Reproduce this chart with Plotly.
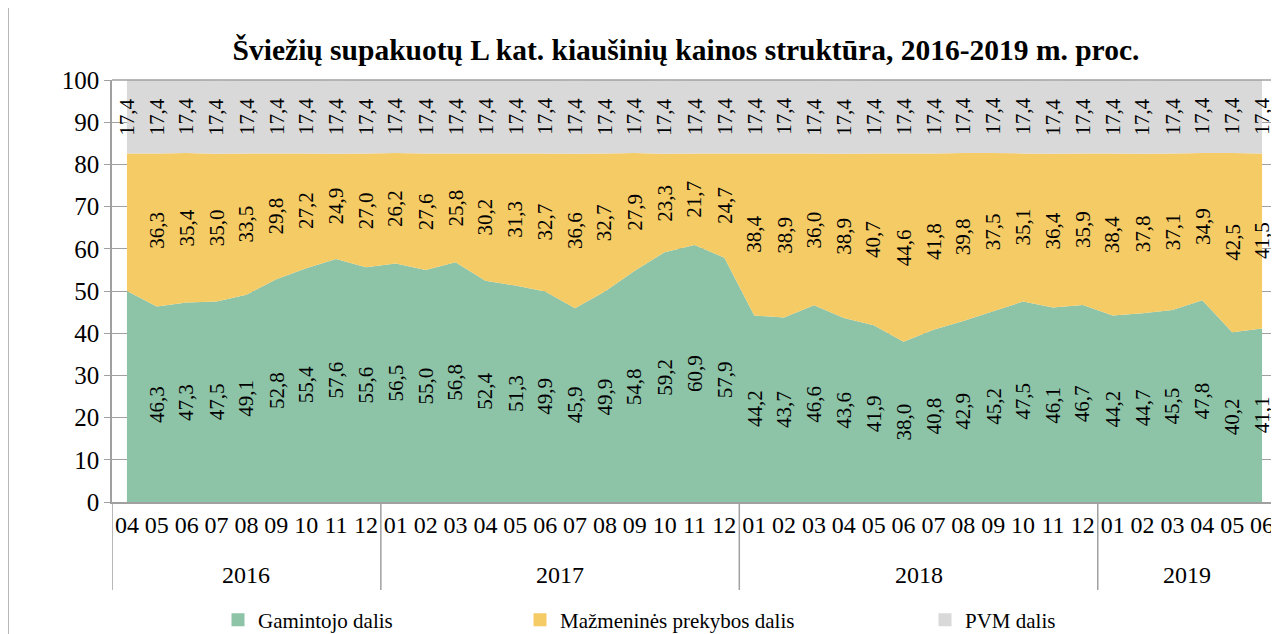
import plotly.graph_objects as go

# ---- data ----
years = ["2016", "2017", "2018", "2019"]
year_counts = [9, 12, 12, 6]
months = ["04", "05", "06", "07", "08", "09", "10", "11", "12",
          "01", "02", "03", "04", "05", "06", "07", "08", "09", "10", "11", "12",
          "01", "02", "03", "04", "05", "06", "07", "08", "09", "10", "11", "12",
          "01", "02", "03", "04", "05", "06"]
gamintojo = [50.0, 46.3, 47.3, 47.5, 49.1, 52.8, 55.4, 57.6, 55.6,
             56.5, 55.0, 56.8, 52.4, 51.3, 49.9, 45.9, 49.9, 54.8, 59.2, 60.9, 57.9,
             44.2, 43.7, 46.6, 43.6, 41.9, 38.0, 40.8, 42.9, 45.2, 47.5, 46.1, 46.7,
             44.2, 44.7, 45.5, 47.8, 40.2, 41.1]
mazmenines = [32.6, 36.3, 35.4, 35.0, 33.5, 29.8, 27.2, 24.9, 27.0,
              26.2, 27.6, 25.8, 30.2, 31.3, 32.7, 36.6, 32.7, 27.9, 23.3, 21.7, 24.7,
              38.4, 38.9, 36.0, 38.9, 40.7, 44.6, 41.8, 39.8, 37.5, 35.1, 36.4, 35.9,
              38.4, 37.8, 37.1, 34.9, 42.5, 41.5]
pvm = [17.4] * 39
# first point has no visible labels for the first two series
label_shown_g = [False] + [True] * 38
label_shown_m = [False] + [True] * 38
series_names = ["Gamintojo dalis", "Mažmeninės prekybos dalis", "PVM dalis"]
colors = ["#8DC3A7", "#F5CB65", "#D9D9D9"]
title_text = "Šviežių supakuotų L kat. kiaušinių kainos struktūra, 2016-2019 m. proc."

FONT = "Liberation Serif, Times New Roman, serif"
GRAY = "#A0A0A0"

# page body has an 8px margin; work in screen pixels and convert
OFF = 8
SW, SH = 1279, 634
W, H = SW - OFF, SH - OFF
PL, PR, PT, PB = 112, 1277, 80, 502   # plot area in screen px
L, R, T, B = PL - OFF, W - (PR - OFF), PT - OFF, H - (PB - OFF)
plot_h = PB - PT
plot_w = PR - PL

def sy(ypx):
    return (PB - ypx) / plot_h

def sx(xpx):
    return (xpx - PL) / plot_w

x = list(range(len(months)))

fig = go.Figure()
for name, vals, col in zip(series_names, [gamintojo, mazmenines, pvm], colors):
    fig.add_trace(go.Scatter(x=x, y=vals, name=name, mode="none",
                             stackgroup="one", fillcolor=col,
                             showlegend=False, hoverinfo="skip"))

# legend entries (square markers), each in its own legend for placement
legend_names = ["legend", "legend2", "legend3"]
legend_text_x = [258, 560, 965]
for name, col, lg in zip(series_names, colors, legend_names):
    fig.add_trace(go.Scatter(x=[None], y=[None], name=name, mode="markers",
                             marker=dict(symbol="square", size=13, color=col),
                             legend=lg, showlegend=True))

annotations = []
def fmt(v):
    return f"{v:.1f}".replace(".", ",")

for i in x:
    g, m, p = gamintojo[i], mazmenines[i], pvm[i]
    items = []
    if label_shown_g[i]:
        items.append((g, g / 2))
    if label_shown_m[i]:
        items.append((m, g + m / 2))
    items.append((p, g + m + p / 2))
    for v, ymid in items:
        annotations.append(dict(x=i, y=ymid, xref="x", yref="y", text=fmt(v),
                                textangle=-90, showarrow=False,
                                font=dict(family=FONT, size=21, color="black")))

# year labels and dividers
shapes = []
start = 0
boundaries = [-0.5]
for yr, cnt in zip(years, year_counts):
    center = start + (cnt - 1) / 2
    annotations.append(dict(x=center, y=sy(575), xref="x", yref="paper",
                            text=yr, showarrow=False, yanchor="middle",
                            font=dict(family=FONT, size=24, color="black")))
    start += cnt
    boundaries.append(start - 0.5)
for b in boundaries:
    shapes.append(dict(type="line", xref="x", yref="paper", x0=b, x1=b,
                       y0=0, y1=sy(590), line=dict(color=GRAY, width=1.5)))

# top line of plot area
shapes.append(dict(type="line", xref="paper", yref="paper", x0=0, x1=1, y0=1, y1=1,
                   line=dict(color=GRAY, width=1.5), layer="above"))
# outer chart frame (left edge)
shapes.append(dict(type="line", xref="paper", yref="paper",
                   x0=sx(8), x1=sx(8), y0=sy(SH + 10), y1=sy(-10),
                   line=dict(color=GRAY, width=1.5)))

fig.update_layout(
    width=W, height=H,
    margin=dict(l=L, r=R, t=T, b=B, pad=0, autoexpand=False),
    paper_bgcolor="white", plot_bgcolor="white",
    font=dict(family=FONT, color="black"),
    title=dict(text="<b>" + title_text + "</b>", x=(686 - OFF) / W, xref="container",
               xanchor="center", y=1 - (50 - OFF) / H, yref="container", yanchor="middle",
               font=dict(family=FONT, size=29.5, color="black")),
    annotations=annotations,
    shapes=shapes,
    xaxis=dict(range=[-0.5, len(months) - 0.5], tickmode="array", tickvals=x,
               ticktext=months, showgrid=False, zeroline=False,
               showline=True, linecolor=GRAY, linewidth=1.5, ticks="",
               ticklabelstandoff=0,
               tickfont=dict(family=FONT, size=24, color="black")),
    yaxis=dict(range=[0, 100], dtick=10, tick0=0, showgrid=True, gridcolor=GRAY,
               gridwidth=1, zeroline=False, showline=True, linecolor=GRAY,
               linewidth=1.5, ticks="outside", ticklen=6, tickcolor=GRAY,
               tickfont=dict(family=FONT, size=25, color="black")),
)

leg_common = dict(orientation="h", xanchor="left", yanchor="middle",
                  y=sy(620), bgcolor="rgba(0,0,0,0)",
                  font=dict(family=FONT, size=21, color="black"),
                  itemwidth=30)
fig.update_layout(
    legend=dict(x=sx(legend_text_x[0] - 40), **leg_common),
    legend2=dict(x=sx(legend_text_x[1] - 40), **leg_common),
    legend3=dict(x=sx(legend_text_x[2] - 40), **leg_common),
)

fig.write_html("out.html")
